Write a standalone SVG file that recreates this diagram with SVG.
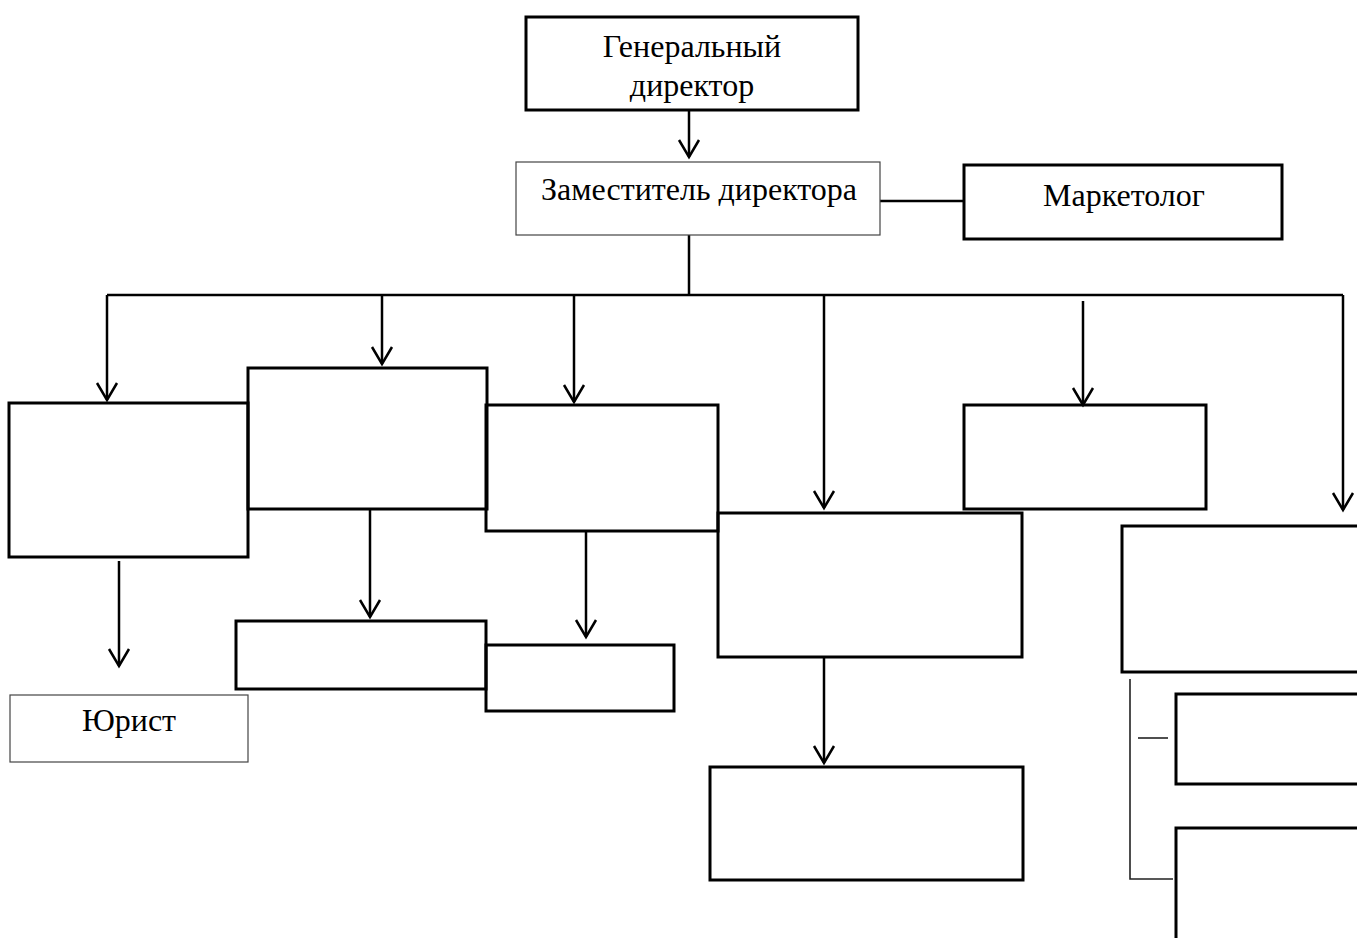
<svg xmlns="http://www.w3.org/2000/svg" width="1357" height="938" viewBox="0 0 1357 938">
<style>
.box{fill:none;stroke:#000;stroke-width:3}
.thin{fill:none;stroke:#444;stroke-width:1.2}
.ln{fill:none;stroke:#000;stroke-width:2.5}
.ar{fill:none;stroke:#000;stroke-width:2.5;marker-end:url(#arr)}
.lt{fill:none;stroke:#222;stroke-width:1.6}
.t{font-family:"Liberation Serif","Times New Roman",serif;font-size:32px;fill:#000;text-anchor:middle}
</style>
<defs>
<marker id="arr" markerUnits="userSpaceOnUse" orient="auto" refX="0" refY="0" markerWidth="30" markerHeight="30" overflow="visible">
<path d="M-17,-10 L0,0 L-17,10" fill="none" stroke="#000" stroke-width="2.5"/>
</marker>
</defs>
<g id="connectors">
<line class="ar" x1="689" y1="110" x2="689" y2="157"/>
<line class="ln" x1="880" y1="201" x2="964" y2="201"/>
<line class="ln" x1="689" y1="235" x2="689" y2="295"/>
<line class="ln" x1="107" y1="295" x2="1343" y2="295"/>
<line class="ar" x1="107" y1="295" x2="107" y2="400"/>
<line class="ar" x1="382" y1="295" x2="382" y2="364"/>
<line class="ar" x1="574" y1="295" x2="574" y2="402"/>
<line class="ar" x1="824" y1="295" x2="824" y2="508"/>
<line class="ar" x1="1083" y1="301" x2="1083" y2="405"/>
<line class="ar" x1="1343" y1="295" x2="1343" y2="510"/>
<line class="ar" x1="119" y1="561" x2="119" y2="666"/>
<line class="ar" x1="370" y1="509" x2="370" y2="617"/>
<line class="ar" x1="586" y1="531" x2="586" y2="637"/>
<line class="ar" x1="824" y1="657" x2="824" y2="763"/>
<path class="lt" d="M1130,679 V879 H1173"/>
<line class="lt" x1="1138" y1="738" x2="1168" y2="738"/>
</g>
<g id="gen-director">
<rect class="box" x="526" y="17" width="332" height="93"/>
<text class="t" x="692" y="57">Генеральный</text>
<text class="t" x="692" y="96">директор</text>
</g>
<g id="deputy">
<rect class="thin" x="516" y="162" width="364" height="73"/>
<text class="t" x="699" y="200">Заместитель директора</text>
</g>
<g id="marketer">
<rect class="box" x="964" y="165" width="318" height="74"/>
<text class="t" x="1124" y="206">Маркетолог</text>
</g>
<g id="box1"><rect class="box" x="9" y="403" width="239" height="154"/></g>
<g id="box2"><rect class="box" x="248" y="368" width="239" height="141"/></g>
<g id="box3"><rect class="box" x="486" y="405" width="232" height="126"/></g>
<g id="box4"><rect class="box" x="718" y="513" width="304" height="144"/></g>
<g id="box5"><rect class="box" x="964" y="405" width="242" height="104"/></g>
<g id="box6"><rect class="box" x="1122" y="526" width="240" height="146"/></g>
<g id="yurist">
<rect class="thin" x="10" y="695" width="238" height="67"/>
<text class="t" x="129" y="731">Юрист</text>
</g>
<g id="box2b"><rect class="box" x="236" y="621" width="250" height="68"/></g>
<g id="box3b"><rect class="box" x="486" y="645" width="188" height="66"/></g>
<g id="box4b"><rect class="box" x="710" y="767" width="313" height="113"/></g>
<g id="box7"><rect class="box" x="1176" y="694" width="186" height="90"/></g>
<g id="box8"><path class="box" d="M1176,940 V828 H1362"/></g>
</svg>
